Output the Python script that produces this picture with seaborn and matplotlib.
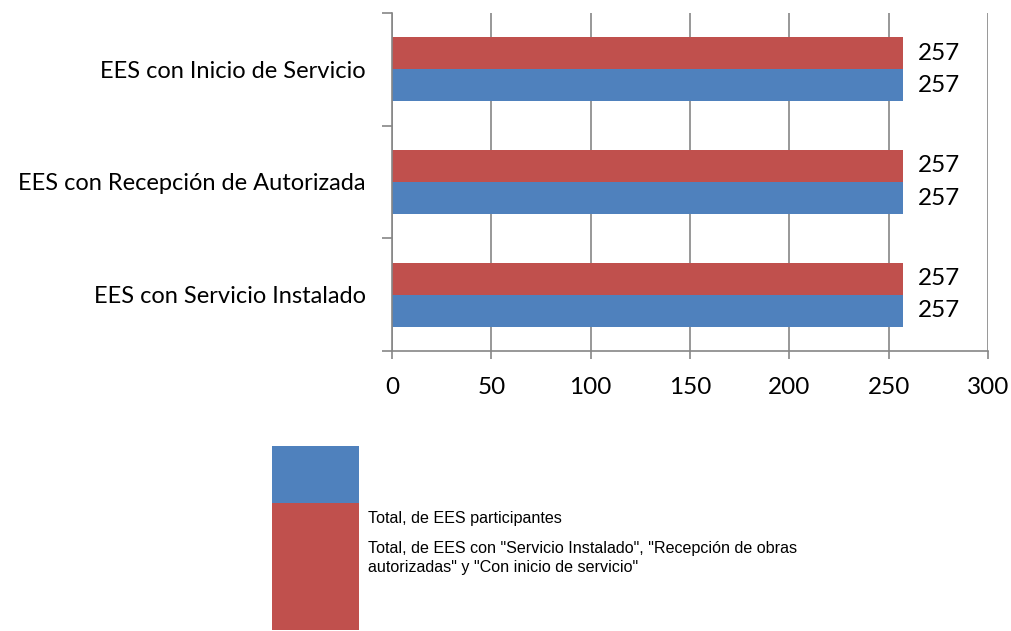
import matplotlib
matplotlib.use("Agg")
import matplotlib.pyplot as plt
import seaborn as sns
import pandas as pd
from matplotlib.patches import Rectangle
from matplotlib.ticker import FixedLocator

categories = ["EES con Inicio de Servicio", "EES con Recepción de Autorizada", "EES con Servicio Instalado"]
series_names = ["Total, de EES participantes",
                "Total, de EES con \"Servicio Instalado\", \"Recepción de obras\nautorizadas\" y \"Con inicio de servicio\""]
participantes = [257, 257, 257]
con_servicio = [257, 257, 257]
x_ticks = [0, 50, 100, 150, 200, 250, 300]

BLUE = "#4F81BD"
RED = "#C0504D"

df = pd.DataFrame({
    "cat": categories * 2,
    "serie": [series_names[1]] * 3 + [series_names[0]] * 3,
    "val": con_servicio + participantes,
})

sns.set_style("white")
plt.rcParams['font.family'] = ['Lato', 'DejaVu Sans']
plt.rcParams['text.color'] = 'black'
plt.rcParams['xtick.color'] = 'black'
plt.rcParams['ytick.color'] = 'black'

fig = plt.figure(figsize=(10.11, 6.31), dpi=100)
ax = fig.add_axes([392/1011, 1-351/631, 596/1011, 338/631])

sns.barplot(data=df, y="cat", x="val", hue="serie", orient="h",
            hue_order=[series_names[1], series_names[0]], order=categories,
            palette=[RED, BLUE], width=0.57, ax=ax, legend=False, saturation=1,
            linewidth=0)

for cont in ax.containers:
    ax.bar_label(cont, labels=[f"{v:.0f}" for v in cont.datavalues], padding=11,
                 fontsize=17.5, color="black")

ax.set_xlim(0, 300)
ax.set_ylim(2.5, -0.5)
ax.set_xticks(x_ticks)
ax.set_xlabel("")
ax.set_ylabel("")
ax.grid(axis="x", color="#868686", linewidth=1.2)
ax.set_axisbelow(True)
for s in ["top", "right"]:
    ax.spines[s].set_visible(False)
for s in ["left", "bottom"]:
    ax.spines[s].set_color("#868686")
    ax.spines[s].set_linewidth(1.2)
ax.tick_params(axis="x", which="major", bottom=True, length=6, color="#868686",
               labelcolor="black", labelsize=17.5, pad=13, width=1.2)
ax.tick_params(axis="y", which="major", left=False, labelsize=17, pad=15.5, labelcolor="black")
ax.yaxis.set_minor_locator(FixedLocator([-0.5, 0.5, 1.5, 2.5]))
ax.tick_params(axis="y", which="minor", left=True, length=7, color="#868686", width=1.2)

# legend
fig.patches.append(Rectangle((272/1011, 1-503/631), 87/1011, 57/631, transform=fig.transFigure,
                             facecolor=BLUE, edgecolor="none"))
fig.patches.append(Rectangle((272/1011, 1-630/631), 87/1011, 127/631, transform=fig.transFigure,
                             facecolor=RED, edgecolor="none"))
fig.text(368/1011, 1-518/631, series_names[0], fontsize=11.6, family="Liberation Sans",
         va="center", color="black")
fig.text(368/1011, 1-558/631, series_names[1], fontsize=11.6, family="Liberation Sans",
         va="center", color="black", linespacing=1.3)

fig.savefig("out.png", dpi=100)
